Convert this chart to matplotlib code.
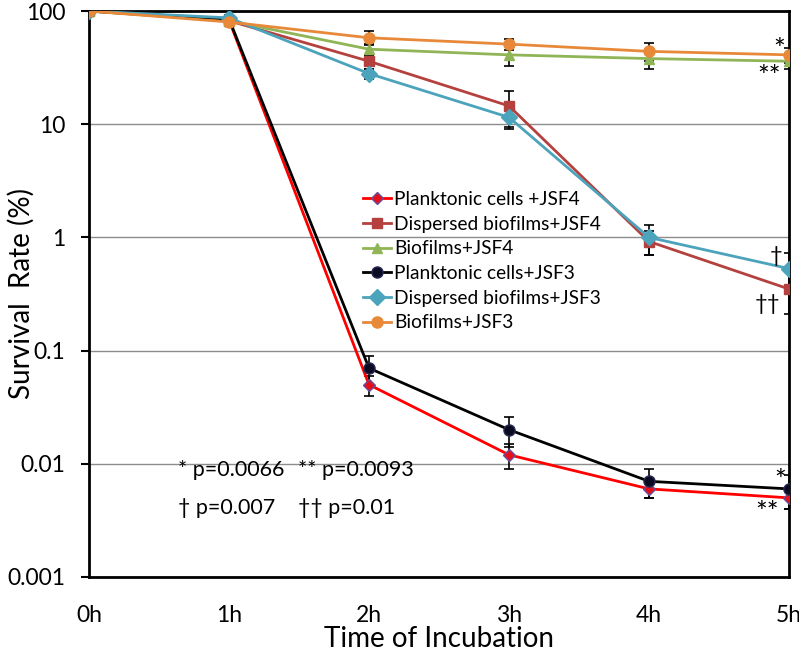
import matplotlib
matplotlib.use("Agg")
import matplotlib.pyplot as plt
import numpy as np

plt.rcParams['font.family'] = ['Lato', 'DejaVu Sans']

hours = [0, 1, 2, 3, 4, 5]
xlabels = ['0h', '1h', '2h', '3h', '4h', '5h']

names = ['Planktonic cells +JSF4', 'Dispersed biofilms+JSF4', 'Biofilms+JSF4',
         'Planktonic cells+JSF3', 'Dispersed biofilms+JSF3', 'Biofilms+JSF3']

plank4 = [100, 83, 0.05, 0.012, 0.006, 0.005]
disp4 = [100, 82, 36, 14.5, 0.92, 0.35]
bio4 = [100, 82, 46, 41, 38, 36]
plank3 = [100, 85, 0.07, 0.02, 0.007, 0.006]
disp3 = [100, 87, 28, 11.5, 1.0, 0.53]
bio3 = [100, 80, 58, 51, 44, 41]

plank4_err = [0, 4, 0.01, 0.003, 0.001, 0.001]
disp4_err = [0, 5, 5, 5, 0.22, 0.14]
bio4_err = [0, 5, 5, 8, 7, 5]
plank3_err = [0, 5, 0.02, 0.006, 0.002, 0.002]
disp3_err = [0, 5, 3, 2.5, 0.3, 0.2]
bio3_err = [0, 5, 8, 6, 8, 6]

series = [plank4, disp4, bio4, plank3, disp3, bio3]
errors = [plank4_err, disp4_err, bio4_err, plank3_err, disp3_err, bio3_err]
line_colors = ['#FF0000', '#B5413F', '#8FB556', '#000000', '#4BA3BC', '#E8893A']
marker_colors = ['#E3101A', '#B5413F', '#8FB556', '#0A0A20', '#4BA3BC', '#E8893A']
edge_colors = ['#6A4C9C', '#B5413F', '#8FB556', '#2A2A55', '#4BA3BC', '#E8893A']
markers = ['D', 's', '^', 'o', 'D', 'o']
msizes = [6, 7, 7, 8, 8, 8]

fig = plt.figure(figsize=(7.99, 6.60), dpi=100)
ax = fig.add_axes([0.1114, 0.1258, 0.8761, 0.8575])

for y, e, lc, mc, ec, m, ms, n in zip(series, errors, line_colors, marker_colors,
                                       edge_colors, markers, msizes, names):
    ax.errorbar(hours, y, yerr=e, fmt='none', ecolor='black', elinewidth=1.2,
                capsize=3.5, capthick=1.2, zorder=2)
    ax.plot(hours, y, color=lc, lw=2, marker=m, markersize=ms,
            markerfacecolor=mc, markeredgecolor=ec, markeredgewidth=1, label=n, zorder=3)

ax.set_yscale('log')
ax.set_ylim(0.001, 100)
ax.set_xlim(0, 5)
ax.set_yticks([0.001, 0.01, 0.1, 1, 10, 100])
ax.set_yticklabels(['0.001', '0.01', '0.1', '1', '10', '100'])
ax.minorticks_off()
ax.set_xticks(hours)
ax.set_xticklabels(xlabels)
ax.yaxis.grid(True, color='#8C8C8C', lw=1)
ax.set_axisbelow(True)
ax.tick_params(axis='y', labelsize=16.5, length=6, width=1.5, direction='out', pad=11)
ax.tick_params(axis='x', labelsize=16.5, length=0, pad=20)
for s in ax.spines.values():
    s.set_linewidth(2)
    s.set_color('black')

ax.set_ylabel('Survival  Rate (%)', fontsize=20)
ax.yaxis.set_label_coords(-0.078, 0.5)
ax.set_xlabel('Time of Incubation', fontsize=20, labelpad=0)

leg = ax.legend(loc='upper left', bbox_to_anchor=(0.391, 0.682), frameon=False,
                fontsize=13.8, handlelength=1.45, handletextpad=0.2, labelspacing=0.4,
                borderaxespad=0, borderpad=0)

# significance markers
sig = dict(fontsize=20, ha='center', va='center')
ax.text(4.93, 44, '*', **sig)
ax.text(4.86, 25.5, '**', **sig)
ax.text(4.91, 0.69, '†', fontsize=16, ha='center', va='center')
ax.text(4.85, 0.26, '††', fontsize=16, ha='center', va='center')
ax.text(4.94, 0.0069, '*', **sig)
ax.text(4.84, 0.0036, '**', **sig)

pv = dict(fontsize=15.5, ha='left', va='center')
ax.text(0.636, 0.0088, '* p=0.0066', **pv)
ax.text(1.493, 0.0088, '** p=0.0093', **pv)
ax.text(0.636, 0.0041, '† p=0.007', **pv)
ax.text(1.493, 0.0041, '†† p=0.01', **pv)

fig.savefig('out.png', dpi=100)
